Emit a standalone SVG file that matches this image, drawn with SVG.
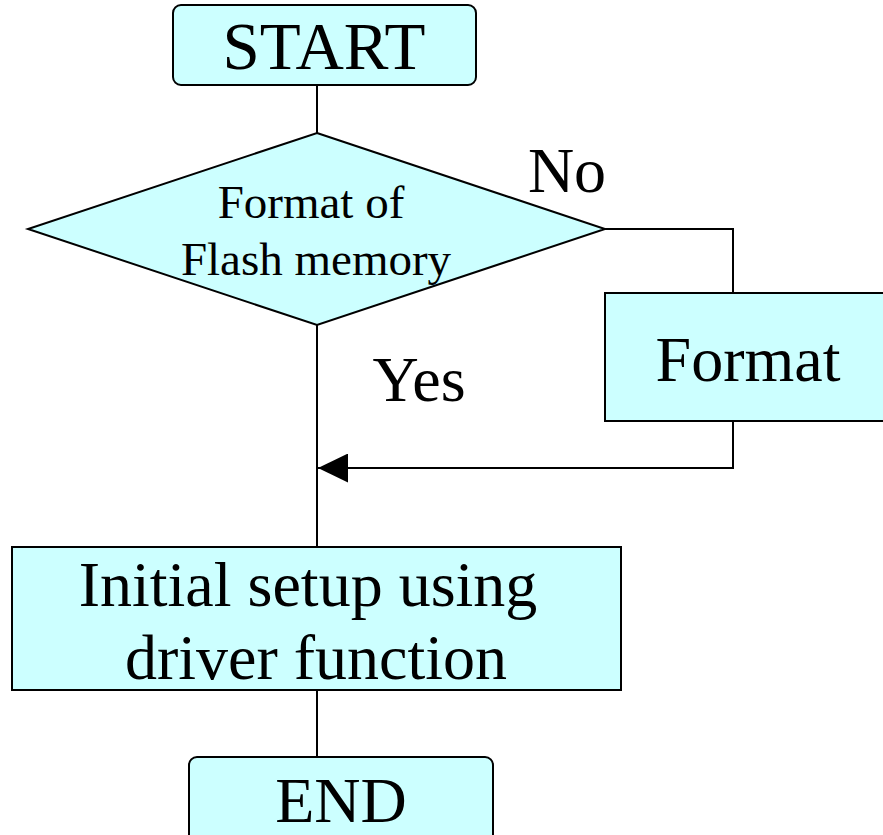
<svg xmlns="http://www.w3.org/2000/svg" width="883" height="835" viewBox="0 0 883 835">
<style>
.shape{fill:#CCFFFF;stroke:#000;stroke-width:2}
.line{fill:none;stroke:#000;stroke-width:2}
.t{font-family:"Liberation Serif","Times New Roman",serif;fill:#000;text-anchor:middle}
.big{font-size:64px}
.mid{font-size:47px}
</style>
<defs>
<marker id="ah" markerWidth="30" markerHeight="29" refX="30" refY="14.5" orient="auto" markerUnits="userSpaceOnUse">
<path d="M0,0 L30,14.5 L0,29 Z" fill="#000"/>
</marker>
</defs>
<g id="connectors">
<line class="line" x1="317" y1="85" x2="317" y2="133"/>
<polyline class="line" points="605,229 733,229 733,293"/>
<line class="line" x1="317" y1="325" x2="317" y2="547"/>
<polyline class="line" points="733,421 733,468 318,468" marker-end="url(#ah)"/>
<line class="line" x1="317" y1="690" x2="317" y2="757"/>
</g>
<g id="start">
<rect class="shape" x="173" y="5" width="303" height="80" rx="8"/>
<text class="t" style="font-size:67px" x="324" y="69">START</text>
</g>
<g id="decision">
<polygon class="shape" points="317,133 605,229 317,325 28,229"/>
<text class="t mid" x="311" y="218">Format of</text>
<text class="t mid" x="316" y="275">Flash memory</text>
</g>
<g id="label-no"><text class="t big" x="567" y="192">No</text></g>
<g id="label-yes"><text class="t big" x="419" y="401">Yes</text></g>
<g id="format">
<rect class="shape" x="605" y="293" width="290" height="128"/>
<text class="t big" x="748" y="381">Format</text>
</g>
<g id="init">
<rect class="shape" x="12" y="547" width="609" height="143"/>
<text class="t big" x="308" y="606">Initial setup using</text>
<text class="t big" x="316" y="679">driver function</text>
</g>
<g id="end">
<rect class="shape" x="189" y="757" width="304" height="100" rx="8"/>
<text class="t big" x="341" y="822">END</text>
</g>
</svg>
